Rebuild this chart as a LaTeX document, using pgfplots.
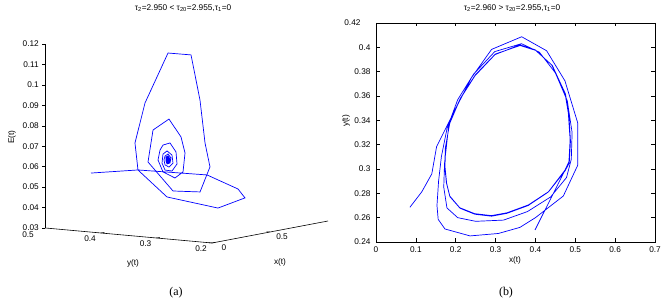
\documentclass[border=0pt]{standalone}
\usepackage{fontspec}
\setmainfont{Liberation Sans}
\newfontfamily\capfont{Liberation Serif}
\usepackage{pgfplots}
\pgfplotsset{compat=1.18}
\definecolor{mblue}{RGB}{0,0,255}
\newcommand{\tl}{\fontsize{8.3}{9}\selectfont}
\begin{document}
\begin{tikzpicture}
\path[use as bounding box] (0bp,0bp) rectangle (670bp,302bp);
% ---------------- left: 3D trajectory ----------------
\begin{axis}[
  at={(45.5bp,59bp)}, anchor=south west,
  x={(116bp,22bp)}, y={(-555bp,50bp)}, z={(0bp,2044bp)},
  xmin=0, xmax=1, ymin=0.2, ymax=0.5, zmin=0.03, zmax=0.12,
  hide axis, clip=false]
\addplot3[mblue, line width=0.7bp] coordinates {
(0.10,0.4389,0.0573) (0.20,0.3751,0.0593) (0.32,0.2759,0.0580) (0.42,0.2409,0.0509)
(0.48,0.2409,0.0459) (0.52,0.2979,0.0391) (0.50,0.3856,0.0426) (0.45,0.4274,0.0553)
(0.38,0.4182,0.0695) (0.30,0.3834,0.0908) (0.24,0.3294,0.1172) (0.22,0.2838,0.1176)
(0.24,0.2718,0.0956) (0.28,0.2711,0.0742) (0.33,0.2726,0.0619) (0.40,0.3052,0.0481)
(0.43,0.3601,0.0469) (0.41,0.4010,0.0603) (0.37,0.3836,0.0768) (0.33,0.3465,0.0835)
(0.31,0.3206,0.0756) (0.31,0.3134,0.0679) (0.34,0.3233,0.0581) (0.37,0.3440,0.0543)
(0.39,0.3698,0.0564) (0.38,0.3767,0.0622) (0.37,0.3710,0.0673) (0.35,0.3614,0.0702)
(0.34,0.3467,0.0717) (0.33,0.3338,0.0677) (0.34,0.3341,0.0617) (0.35,0.3452,0.0579)
(0.36,0.3599,0.0579) (0.36,0.3653,0.0612) (0.355,0.3625,0.0657) (0.35,0.3542,0.0675)
(0.345,0.3442,0.0658) (0.345,0.3424,0.0619) (0.35,0.3506,0.0597) (0.355,0.3589,0.0605)
(0.355,0.3607,0.0629)
(0.35,0.3578,0.06494) (0.35,0.3524,0.06605) (0.35,0.3470,0.06422) (0.35,0.3488,0.06173)
(0.35,0.3542,0.06111) (0.35,0.3560,0.06253) (0.35,0.3560,0.06449) (0.35,0.3524,0.06507)
(0.35,0.3488,0.06369) (0.35,0.3488,0.06222) (0.35,0.3542,0.06160) (0.35,0.3560,0.06302)
(0.35,0.3551,0.06426) (0.35,0.3515,0.06460) (0.35,0.3492,0.06343) (0.35,0.3506,0.06217)
(0.35,0.3542,0.06209) (0.35,0.3551,0.06304) (0.35,0.3542,0.06405) (0.35,0.3515,0.06411)
(0.35,0.3497,0.06318) (0.35,0.3515,0.06240) (0.35,0.3542,0.06258) (0.35,0.3542,0.06331)
(0.35,0.3524,0.06384) (0.35,0.3506,0.06339) (0.35,0.3510,0.06266) (0.35,0.3533,0.06260)
(0.35,0.3538,0.06322) (0.35,0.3524,0.06360) (0.35,0.3515,0.06313) (0.35,0.3524,0.06287)
(0.35,0.3529,0.06310) (0.35,0.3524,0.06311)
};
% axis lines
\draw[line width=0.6bp] (axis cs:0,0.5,0.12) -- (axis cs:0,0.5,0.03) -- (axis cs:0,0.2,0.03) -- (axis cs:1,0.2,0.03);
\pgfplotsinvokeforeach{0.03,0.04,0.05,0.06,0.07,0.08,0.09,0.1,0.11,0.12}{
  \draw[line width=0.5bp] (axis cs:0,0.5,#1) -- ++(-3.5bp,0bp);
  \node[anchor=east, font=\tl, inner sep=0pt] at ([xshift=-6.5bp]axis cs:0,0.5,#1) {#1};
}
\pgfplotsinvokeforeach{0.4,0.3,0.2}{
  \draw[line width=0.5bp] (axis cs:0,#1,0.03) -- (axis cs:0.03,#1,0.03);
  \node[font=\tl, inner sep=0pt] at ([xshift=-11bp,yshift=-6bp]axis cs:0,#1,0.03) {#1};
}
\node[font=\tl, inner sep=0pt] at ([xshift=-17.5bp,yshift=-7bp]axis cs:0,0.5,0.03) {0.5};
\pgfplotsinvokeforeach{0,0.5}{
  \draw[line width=0.5bp] (axis cs:#1,0.2,0.03) -- (axis cs:#1,0.206,0.03);
  \node[font=\tl, inner sep=0pt] at ([xshift=12bp,yshift=-5bp]axis cs:#1,0.2,0.03) {#1};
}
\end{axis}
% ---------------- right: phase plane ----------------
\begin{axis}[
  at={(376bp,60bp)}, anchor=south west, scale only axis,
  width=279bp, height=219bp,
  xmin=0, xmax=0.7, ymin=0.24, ymax=0.42,
  xtick={0,0.1,0.2,0.3,0.4,0.5,0.6,0.7},
  xticklabels={0,0.1,0.2,0.3,0.4,0.5,0.6,0.7},
  ytick={0.24,0.26,0.28,0.3,0.32,0.34,0.36,0.38,0.4,0.42},
  yticklabels={0.24,0.26,0.28,0.3,0.32,0.34,0.36,0.38,0.4,{0.42\hspace*{10bp}}},
  tick align=inside, major tick length=3.5bp,
  axis line style={line width=0.6bp},
  every tick/.style={black, line width=0.5bp},
  tick label style={font=\tl},
  yticklabel style={xshift=-2bp},
  xticklabel style={yshift=-1bp},
]
\addplot[mblue, line width=0.7bp] coordinates {
(0.085,0.2685) (0.115,0.2813) (0.140,0.2960) (0.152,0.3183) (0.194,0.3458)
(0.240,0.3753) (0.290,0.3983) (0.3655,0.4087) (0.428,0.3972) (0.474,0.3725)
(0.506,0.3380) (0.506,0.3030) (0.470,0.2778) (0.400,0.2600) (0.361,0.2520)
(0.307,0.2470) (0.236,0.2450) (0.173,0.2507) (0.156,0.2586) (0.153,0.2700)
(0.157,0.2900) (0.164,0.3100)
(0.178,0.3330) (0.205,0.3570) (0.245,0.3780) (0.298,0.3965) (0.365,0.4030)
(0.410,0.3960) (0.450,0.3790) (0.480,0.3560) (0.492,0.3300) (0.490,0.3080)
(0.478,0.2930) (0.438,0.2770) (0.380,0.2650) (0.320,0.2580) (0.250,0.2570)
(0.205,0.2600) (0.178,0.2680) (0.170,0.2850) (0.172,0.3050)
(0.183,0.3370) (0.210,0.3570) (0.248,0.3765) (0.2985,0.3940) (0.361,0.4020)
(0.399,0.3980) (0.441,0.3855) (0.474,0.3625) (0.4825,0.3460) (0.487,0.3240)
(0.484,0.3060) (0.474,0.2990) (0.432,0.2810) (0.382,0.2700) (0.328,0.2635)
(0.290,0.2612) (0.248,0.2628) (0.211,0.2677) (0.1856,0.2772) (0.1773,0.2882)
(0.1731,0.3020) (0.1745,0.3170)
(0.1845,0.3380) (0.2115,0.3580) (0.2495,0.3775) (0.2995,0.3945) (0.3615,0.4015)
(0.4005,0.3975) (0.4425,0.3850) (0.4755,0.3615) (0.4840,0.3445) (0.4880,0.3230)
(0.4850,0.3050) (0.4745,0.2985) (0.4335,0.2815) (0.3825,0.2705) (0.3285,0.2640)
(0.2895,0.2617) (0.2475,0.2633) (0.2100,0.2682) (0.1850,0.2778) (0.1765,0.2888)
(0.1725,0.3025) (0.1740,0.3175)
(0.1850,0.3375) (0.2110,0.3575) (0.2490,0.3770) (0.2990,0.3942) (0.3610,0.4017)
(0.4000,0.3977) (0.4420,0.3852) (0.4750,0.3620) (0.4835,0.3452) (0.4875,0.3235)
(0.4845,0.3055) (0.4740,0.2990) (0.399,0.2499)
};
\end{axis}
% ---------------- texts ----------------
\node[font=\tl] at (183bp,294bp) {τ\textsubscript{2}=2.950 < τ\textsubscript{20}=2.955,τ\textsubscript{1}=0};
\node[font=\tl] at (512bp,294bp) {τ\textsubscript{2}=2.960 > τ\textsubscript{20}=2.955,τ\textsubscript{1}=0};
\node[font=\tl, rotate=90] at (12bp,165bp) {E(t)};
\node[font=\tl] at (133bp,39bp) {y(t)};
\node[font=\tl] at (280bp,40bp) {x(t)};
\node[font=\tl] at (515bp,42bp) {x(t)};
\node[font=\tl, rotate=90] at (346bp,181bp) {y(t)};
\node[font=\capfont\fontsize{12}{14}\selectfont] at (176bp,9bp) {(a)};
\node[font=\capfont\fontsize{12}{14}\selectfont] at (506bp,9bp) {(b)};
\end{tikzpicture}
\end{document}
